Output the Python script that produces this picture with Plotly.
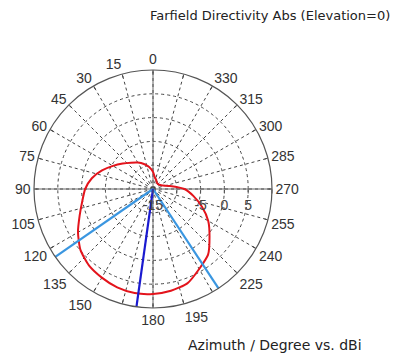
import plotly.graph_objects as go

# ---- data ----
theta_deg = list(range(0, 361, 10))
directivity_dbi = [-11.4, -10.3, -9.4, -8.6, -7.8, -6.7, -5.3, -3.6, -1.95, -0.75,
                   0.1, 1.4, 3.2, 4.9, 5.95, 6.5, 7.0, 7.2, 7.05, 6.7,
                   6.1, 4.4, 3.0, 0.5, -1.6, -4.05, -6.35, -8.4, -11.4, -12.8,
                   -13.3, -13.5, -13.5, -13.4, -13.0, -12.6, -11.4]
main_lobe_dir = 172.0
beam_edges = [124.8, 213.4]
r_range = [-15, 10]
radial_ticks = [-15, -10, -5, 0, 5, 10]
radial_ticktext = ["-15", "", "-5", "0", "5", ""]
angle_ticks = list(range(0, 360, 15))
angle_ticktext = [str(a) if a not in (165, 210, 345) else "" for a in angle_ticks]

title_text = "Farfield Directivity Abs (Elevation=0)"
axis_text = "Azimuth / Degree vs. dBi"

FONT = "Liberation Sans, Arial, sans-serif"
TFONT = "DejaVu Sans, Verdana, sans-serif"
GRID = "#444444"

fig = go.Figure()

# solid cross axes through the centre
fig.add_trace(go.Scatterpolar(r=[r_range[1], r_range[0], r_range[1]], theta=[0, 0, 180],
                              mode="lines", line=dict(color="#666666", width=1),
                              hoverinfo="skip", showlegend=False))
fig.add_trace(go.Scatterpolar(r=[r_range[1], r_range[0], r_range[1]], theta=[90, 90, 270],
                              mode="lines", line=dict(color="#666666", width=1),
                              hoverinfo="skip", showlegend=False))

# pattern
fig.add_trace(go.Scatterpolar(r=directivity_dbi, theta=theta_deg, mode="lines",
                              line=dict(color="#e3141c", width=2, shape="spline", smoothing=0.6),
                              showlegend=False))

# beamwidth lines
for a in beam_edges:
    fig.add_trace(go.Scatterpolar(r=[r_range[0], r_range[1]], theta=[a, a], mode="lines",
                                  line=dict(color="#3a96e0", width=2.2), showlegend=False))
# main lobe direction
fig.add_trace(go.Scatterpolar(r=[r_range[0], r_range[1]], theta=[main_lobe_dir, main_lobe_dir],
                              mode="lines", line=dict(color="#1a1ad0", width=2.2), showlegend=False))

cx, cy, R = 153, 189, 119
W, H = 395, 358
fig.update_layout(
    width=W, height=H,
    margin=dict(l=0, r=0, t=0, b=0),
    paper_bgcolor="white",
    polar=dict(
        domain=dict(x=[(cx - R) / W, (cx + R) / W], y=[(H - cy - R) / H, (H - cy + R) / H]),
        bgcolor="white",
        angularaxis=dict(rotation=90, direction="counterclockwise",
                         tickvals=angle_ticks, ticktext=angle_ticktext,
                         showline=True, linecolor="#555555", linewidth=1.2,
                         showgrid=True, gridcolor=GRID, gridwidth=1, griddash="3px,3px",
                         ticks="inside", ticklen=3, tickcolor="#444444",
                         tickfont=dict(family=FONT, size=14, color="#333333")),
        radialaxis=dict(range=r_range, tickvals=radial_ticks, ticktext=radial_ticktext,
                        angle=0, side="clockwise", showline=False,
                        showgrid=True, gridcolor=GRID, gridwidth=1, griddash="3px,3px",
                        ticks="outside", ticklen=4, tickcolor="#555555",
                        tickfont=dict(family=FONT, size=14, color="#444444")),
    ),
    annotations=[
        dict(text=title_text, x=392 / W, y=1 - 15 / H, xref="paper", yref="paper", showarrow=False,
             xanchor="right", yanchor="middle",
             font=dict(family=TFONT, size=13, color="#222222")),
        dict(text=axis_text, x=275 / W, y=1 - 345 / H, xref="paper", yref="paper", showarrow=False,
             xanchor="center", yanchor="middle",
             font=dict(family=TFONT, size=14, color="#222222")),
    ],
)

fig.write_html("out.html", config={"displayModeBar": False},
               post_script="document.body.style.margin='0px';")
